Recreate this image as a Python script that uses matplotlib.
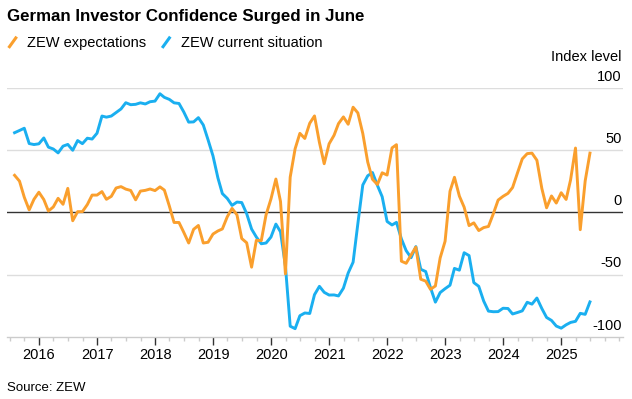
import pandas as pd
import matplotlib.pyplot as plt
import matplotlib.dates as mdates
from matplotlib.lines import Line2D
from matplotlib.ticker import FixedLocator

plt.rcParams['font.family'] = ['Liberation Sans', 'DejaVu Sans']

# monthly ZEW survey, Jul 2015 - Jun 2025
dates = pd.date_range('2015-07-31', '2025-06-30', freq='ME')

expectations = [
    29.7, 25.0, 12.1, 1.9, 10.4, 16.1,
    10.2, 1.0, 4.3, 11.2, 6.4, 19.2, -6.8, 0.5, 0.5, 6.2, 13.8, 13.8,
    16.6, 10.4, 12.8, 19.5, 20.6, 18.6, 17.5, 10.0, 17.0, 17.6, 18.7, 17.4,
    20.4, 17.8, 5.1, -8.2, -8.2, -16.1, -24.7, -13.7, -10.6, -24.7, -24.1, -17.5,
    -15.0, -13.4, -3.6, 3.1, -2.1, -21.1, -24.5, -44.1, -22.5, -22.8, -2.1, 10.7,
    26.7, 8.7, -49.5, 28.2, 51.0, 63.4, 59.3, 71.5, 77.4, 56.1, 39.0, 55.0,
    61.8, 71.2, 76.6, 70.7, 84.4, 79.8, 63.3, 40.4, 26.5, 22.3, 31.7, 29.9,
    51.7, 54.3, -39.3, -41.0, -34.3, -28.0, -53.8, -55.3, -61.9, -59.2, -36.7, -23.3,
    16.9, 28.1, 13.0, 4.1, -10.7, -8.5, -14.7, -12.3, -11.4, -1.1, 9.8, 12.8,
    15.2, 19.9, 31.7, 42.9, 47.1, 47.5, 41.8, 19.2, 3.6, 13.1, 7.4, 15.7,
    10.3, 26.0, 51.6, -14.0, 25.2, 47.5,
]

current = [
    63.9, 65.7, 67.5, 55.2, 54.4, 55.0,
    59.7, 52.3, 50.8, 47.7, 53.1, 54.5, 49.8, 57.6, 55.1, 59.5, 58.8, 63.5,
    77.3, 76.4, 77.3, 80.1, 83.0, 88.0, 86.4, 86.7, 87.9, 87.0, 88.8, 89.3,
    95.2, 92.3, 90.7, 87.9, 87.4, 80.6, 72.4, 72.6, 76.0, 70.1, 58.2, 45.3,
    27.6, 15.0, 11.1, 5.5, 8.2, 7.8, -1.1, -13.5, -19.9, -25.3, -24.7, -19.9,
    -9.5, -15.7, -43.1, -91.5, -93.5, -83.1, -80.9, -81.3, -66.2, -59.5, -64.3, -66.5,
    -66.4, -67.2, -61.0, -48.8, -40.1, -9.1, 21.9, 29.3, 31.9, 21.6, 12.5, -7.4,
    -10.2, -8.1, -21.4, -30.8, -36.5, -27.6, -45.8, -47.6, -60.5, -72.2, -64.5, -61.4,
    -58.6, -45.1, -46.5, -32.5, -34.8, -56.5, -59.5, -71.3, -79.4, -79.9, -79.8, -77.1,
    -77.3, -81.7, -80.5, -79.2, -72.3, -73.8, -68.9, -77.3, -84.5, -86.9, -91.4, -93.1,
    -90.4, -88.5, -87.6, -81.2, -82.0, -72.0,
]

years = list(range(2016, 2026))
yticks = [-100, -50, 0, 50, 100]

orange = '#FA9F2D'
blue = '#1AAFF0'

fig = plt.figure(figsize=(6.32, 3.99), dpi=100)
ax = fig.add_axes([0.011, 0.156, 0.975, 0.624])

for y in yticks:
    if y == 0:
        ax.axhline(y, color='#333333', lw=1.0, zorder=1)
    elif y != -100:
        ax.axhline(y, color='#dddddd', lw=1.0, zorder=0)

ax.plot(dates, current, color=blue, lw=2.1, zorder=3, clip_on=False)
ax.plot(dates, expectations, color=orange, lw=2.1, zorder=4, clip_on=False)

ax.set_ylim(-100, 100)
ax.set_xlim(pd.Timestamp('2015-06-13'), pd.Timestamp('2026-01-25'))

for s in ['top', 'left', 'right']:
    ax.spines[s].set_visible(False)
ax.spines['bottom'].set_color('#cccccc')
ax.spines['bottom'].set_linewidth(1.0)

year_pos = [mdates.date2num(pd.Timestamp(f'{y}-01-01')) for y in years]
ax.xaxis.set_major_locator(FixedLocator(year_pos))
ax.set_xticklabels([str(y) for y in years])
ax.xaxis.set_minor_locator(mdates.MonthLocator(bymonth=[1, 4, 7, 10]))
ax.tick_params(axis='x', which='major', length=6, width=1, color='#333333',
               labelsize=10.5, pad=2)
ax.tick_params(axis='x', which='minor', length=3, width=1, color='#cccccc')

ax.set_yticks([])
for y in yticks:
    ax.annotate(str(y), xy=(1.0, y), xycoords=('axes fraction', 'data'),
                xytext=(-1, 3), textcoords='offset points',
                ha='right', va='bottom', fontsize=10.5)
ax.annotate('Index level', xy=(1.0, 100), xycoords=('axes fraction', 'data'),
            xytext=(-1, 17), textcoords='offset points',
            ha='right', va='bottom', fontsize=10.5)

fig.text(0.011, 0.958, 'German Investor Confidence Surged in June',
         fontsize=12.2, fontweight='bold', va='center')

fig.add_artist(Line2D([0.015, 0.025], [0.883, 0.905], color=orange, lw=2.2))
fig.text(0.043, 0.893, 'ZEW expectations', fontsize=10.5, va='center')
fig.add_artist(Line2D([0.258, 0.268], [0.883, 0.905], color=blue, lw=2.2))
fig.text(0.286, 0.893, 'ZEW current situation', fontsize=10.5, va='center')

fig.text(0.011, 0.028, 'Source: ZEW', fontsize=9.5, va='center')

fig.savefig('out.png', dpi=100)
